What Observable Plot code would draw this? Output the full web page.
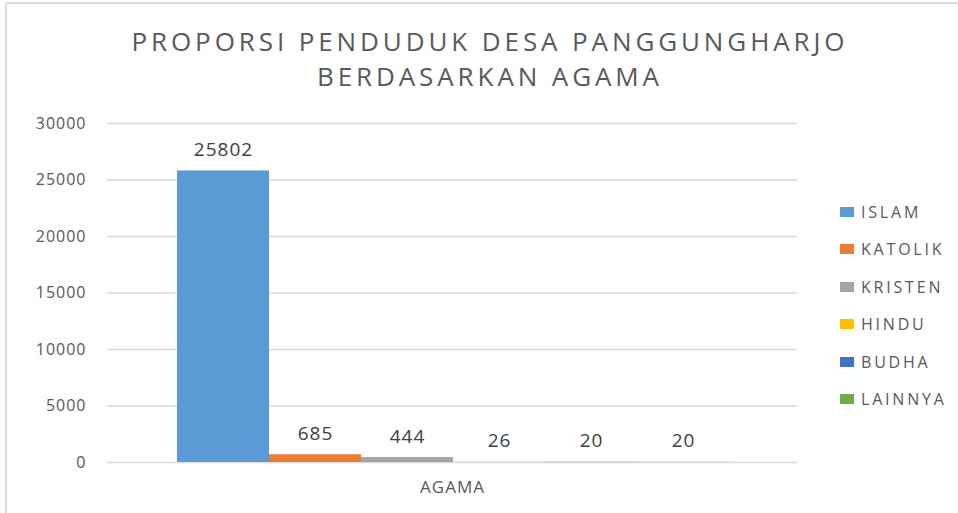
<!DOCTYPE html>
<html>
<head>
<meta charset="utf-8">
<script src="https://cdn.jsdelivr.net/npm/d3@7"></script>
<script src="https://cdn.jsdelivr.net/npm/@observablehq/plot@0.6"></script>
<style>
  html, body { margin: 0; padding: 0; background: #fff; }
  #wrap { position: relative; width: 958px; height: 513px; overflow: hidden; font-family: "Open Sans", sans-serif; }
  #frame { position: absolute; left: 5px; top: 2px; width: 1000px; height: 509px; border-left: 2px solid #dcdcdc; border-top: 2px solid #dcdcdc; border-bottom: 1px solid #f0f0f0; pointer-events: none; z-index: 2; }
  #title { width: 958px; box-sizing: border-box; padding-left: 22px; padding-top: 24px; height: 100px; text-align: center; font-size: 26px; line-height: 35px; color: #595959; letter-spacing: 3.9px; }
  #chart svg { display: block; }
  #legend { position: absolute; left: 840px; top: 193px; color: #595959; font-size: 16px; letter-spacing: 2.8px; }
  .row { display: flex; align-items: center; height: 37.5px; }
  .sw { width: 14px; height: 10px; margin-right: 7px; }
</style>
</head>
<body>
<div id="wrap">
  <div id="frame"></div>
  <div id="title">PROPORSI PENDUDUK DESA PANGGUNGHARJO<br>BERDASARKAN AGAMA</div>
  <div id="chart"></div>
  <div id="legend"></div>
</div>
<script>
const category = "AGAMA";
const religions = ["ISLAM", "KATOLIK", "KRISTEN", "HINDU", "BUDHA", "LAINNYA"];
const counts = [25802, 685, 444, 26, 20, 20];
const colors = ["#5B9BD5", "#ED7D31", "#A5A5A5", "#FFC000", "#4472C4", "#70AD47"];
const yTicks = [0, 5000, 10000, 15000, 20000, 25000, 30000];

const data = religions.map((r, i) => ({group: category, religion: r, count: counts[i]}));

const plot = Plot.plot({
  width: 958,
  height: 413,
  marginTop: 23,
  marginBottom: 51,
  marginLeft: 107,
  marginRight: 161,
  style: {fontFamily: "Open Sans, sans-serif", fontSize: "16px", color: "#595959", background: "transparent"},
  x: {domain: religions, range: [177, 729], padding: 0, axis: null},
  y: {domain: [0, 30000], axis: null},
  color: {domain: religions, range: colors},
  marks: [
    Plot.gridY(yTicks, {stroke: "#d9d9d9", strokeOpacity: 1, strokeWidth: 1.3}),
    Plot.barY(data, {x: "religion", y: "count", fill: "religion"}),
    Plot.text(data, {x: "religion", y: "count", text: d => String(d.count), dy: -21, fill: "#404040", fontSize: 19}),
    Plot.axisY(yTicks, {tickSize: 0, tickPadding: 21, tickFormat: d3.format("d"), label: null, fontSize: 16, fill: "#595959"}),
    Plot.text([category], {frameAnchor: "bottom", dy: 30, text: d => d, fontSize: 17, fill: "#595959"})
  ]
});
plot.querySelectorAll("text").forEach(t => { if (/^[0-9A-Z]+$/.test(t.textContent)) t.style.letterSpacing = "1px"; });
document.getElementById("chart").appendChild(plot);

const legend = document.getElementById("legend");
religions.forEach((r, i) => {
  const row = document.createElement("div");
  row.className = "row";
  const sw = document.createElement("div");
  sw.className = "sw";
  sw.style.background = colors[i];
  const lab = document.createElement("span");
  lab.textContent = r;
  row.appendChild(sw);
  row.appendChild(lab);
  legend.appendChild(row);
});
</script>
</body>
</html>
